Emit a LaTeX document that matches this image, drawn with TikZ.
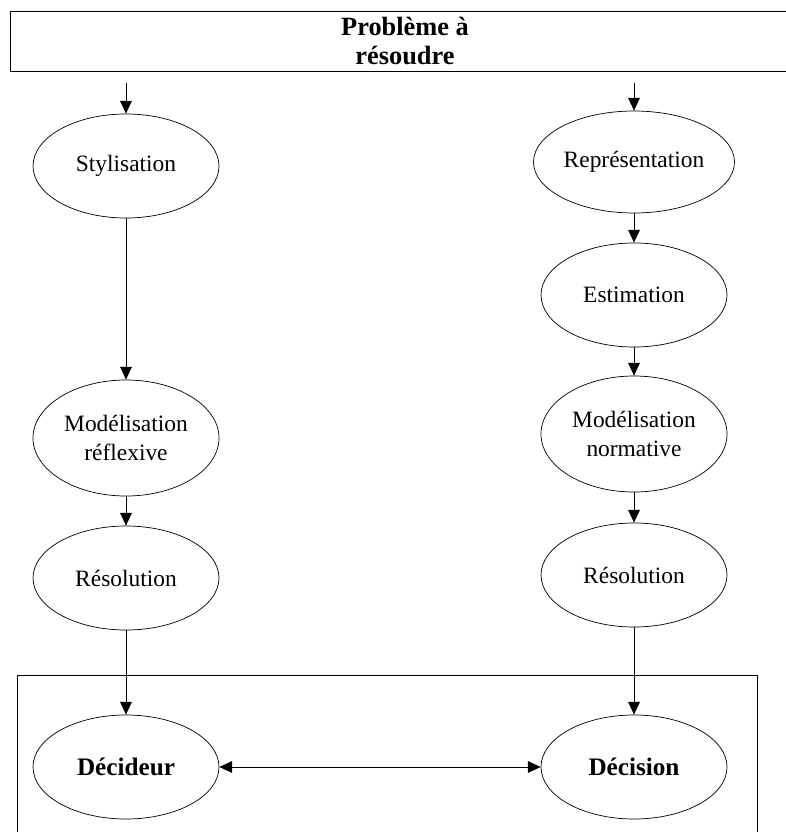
\documentclass[tikz,border=0pt]{standalone}
\usepackage{fontspec}
\setmainfont{Liberation Serif}
\usepackage{tikz}
\usetikzlibrary{arrows.meta,shapes.geometric}

\tikzset{
  etape/.style={draw, ellipse, line width=0.6pt, inner sep=0pt, align=center,
    minimum width=5.58cm, minimum height=3.12cm, font=\fontsize{20}{24}\selectfont},
  etapefin/.style={etape, font=\fontsize{21.5}{25}\selectfont\bfseries},
  fleche/.style={-{Triangle[length=11pt,width=10pt]}, line width=0.8pt}
}

\begin{document}
\begin{tikzpicture}[x=0.03cm, y=-0.03cm]
\useasboundingbox (0,0) rectangle (786,832);

% Problem box at the top
\node[draw, line width=0.8pt, minimum width=23.7cm, minimum height=1.8cm, align=center,
  font=\fontsize{22.5}{24}\selectfont\bfseries] (probleme) at (405,41) {Problème à\\résoudre};
\coordinate (departg) at (126,83);
\coordinate (departd) at (634,83);

% Left branch
\node[etape] (styl) at (126,166) {Stylisation};
\node[etape, minimum height=3.48cm] (modref) at (126,438) {Modélisation\\réflexive};
\node[etape] (resg) at (126,578) {Résolution};

% Right branch
\node[etape, minimum width=6.03cm, minimum height=3.06cm] (repr) at (634,162) {Représentation};
\node[etape] (estim) at (634,295) {Estimation};
\node[etape, minimum height=3.48cm] (modnorm) at (634,434) {Modélisation\\normative};
\node[etape] (resd) at (634,575) {Résolution};

% Bottom box
\draw[line width=0.8pt] (17,850) -- (17,675) -- (757,675) -- (757,850);
\node[etapefin] (decideur) at (126,767) {Décideur};
\node[etapefin] (decision) at (634,767) {Décision};

% Arrows
\draw[fleche] (departg) -- (styl);
\draw[fleche] (styl) -- (modref);
\draw[fleche] (modref) -- (resg);
\draw[fleche] (resg) -- (decideur);
\draw[fleche] (departd) -- (repr);
\draw[fleche] (repr) -- (estim);
\draw[fleche] (estim) -- (modnorm);
\draw[fleche] (modnorm) -- (resd);
\draw[fleche] (resd) -- (decision);
\draw[line width=0.8pt, {Triangle[length=11pt,width=10pt]}-{Triangle[length=11pt,width=10pt]}] (decideur) -- (decision);
\end{tikzpicture}
\end{document}
